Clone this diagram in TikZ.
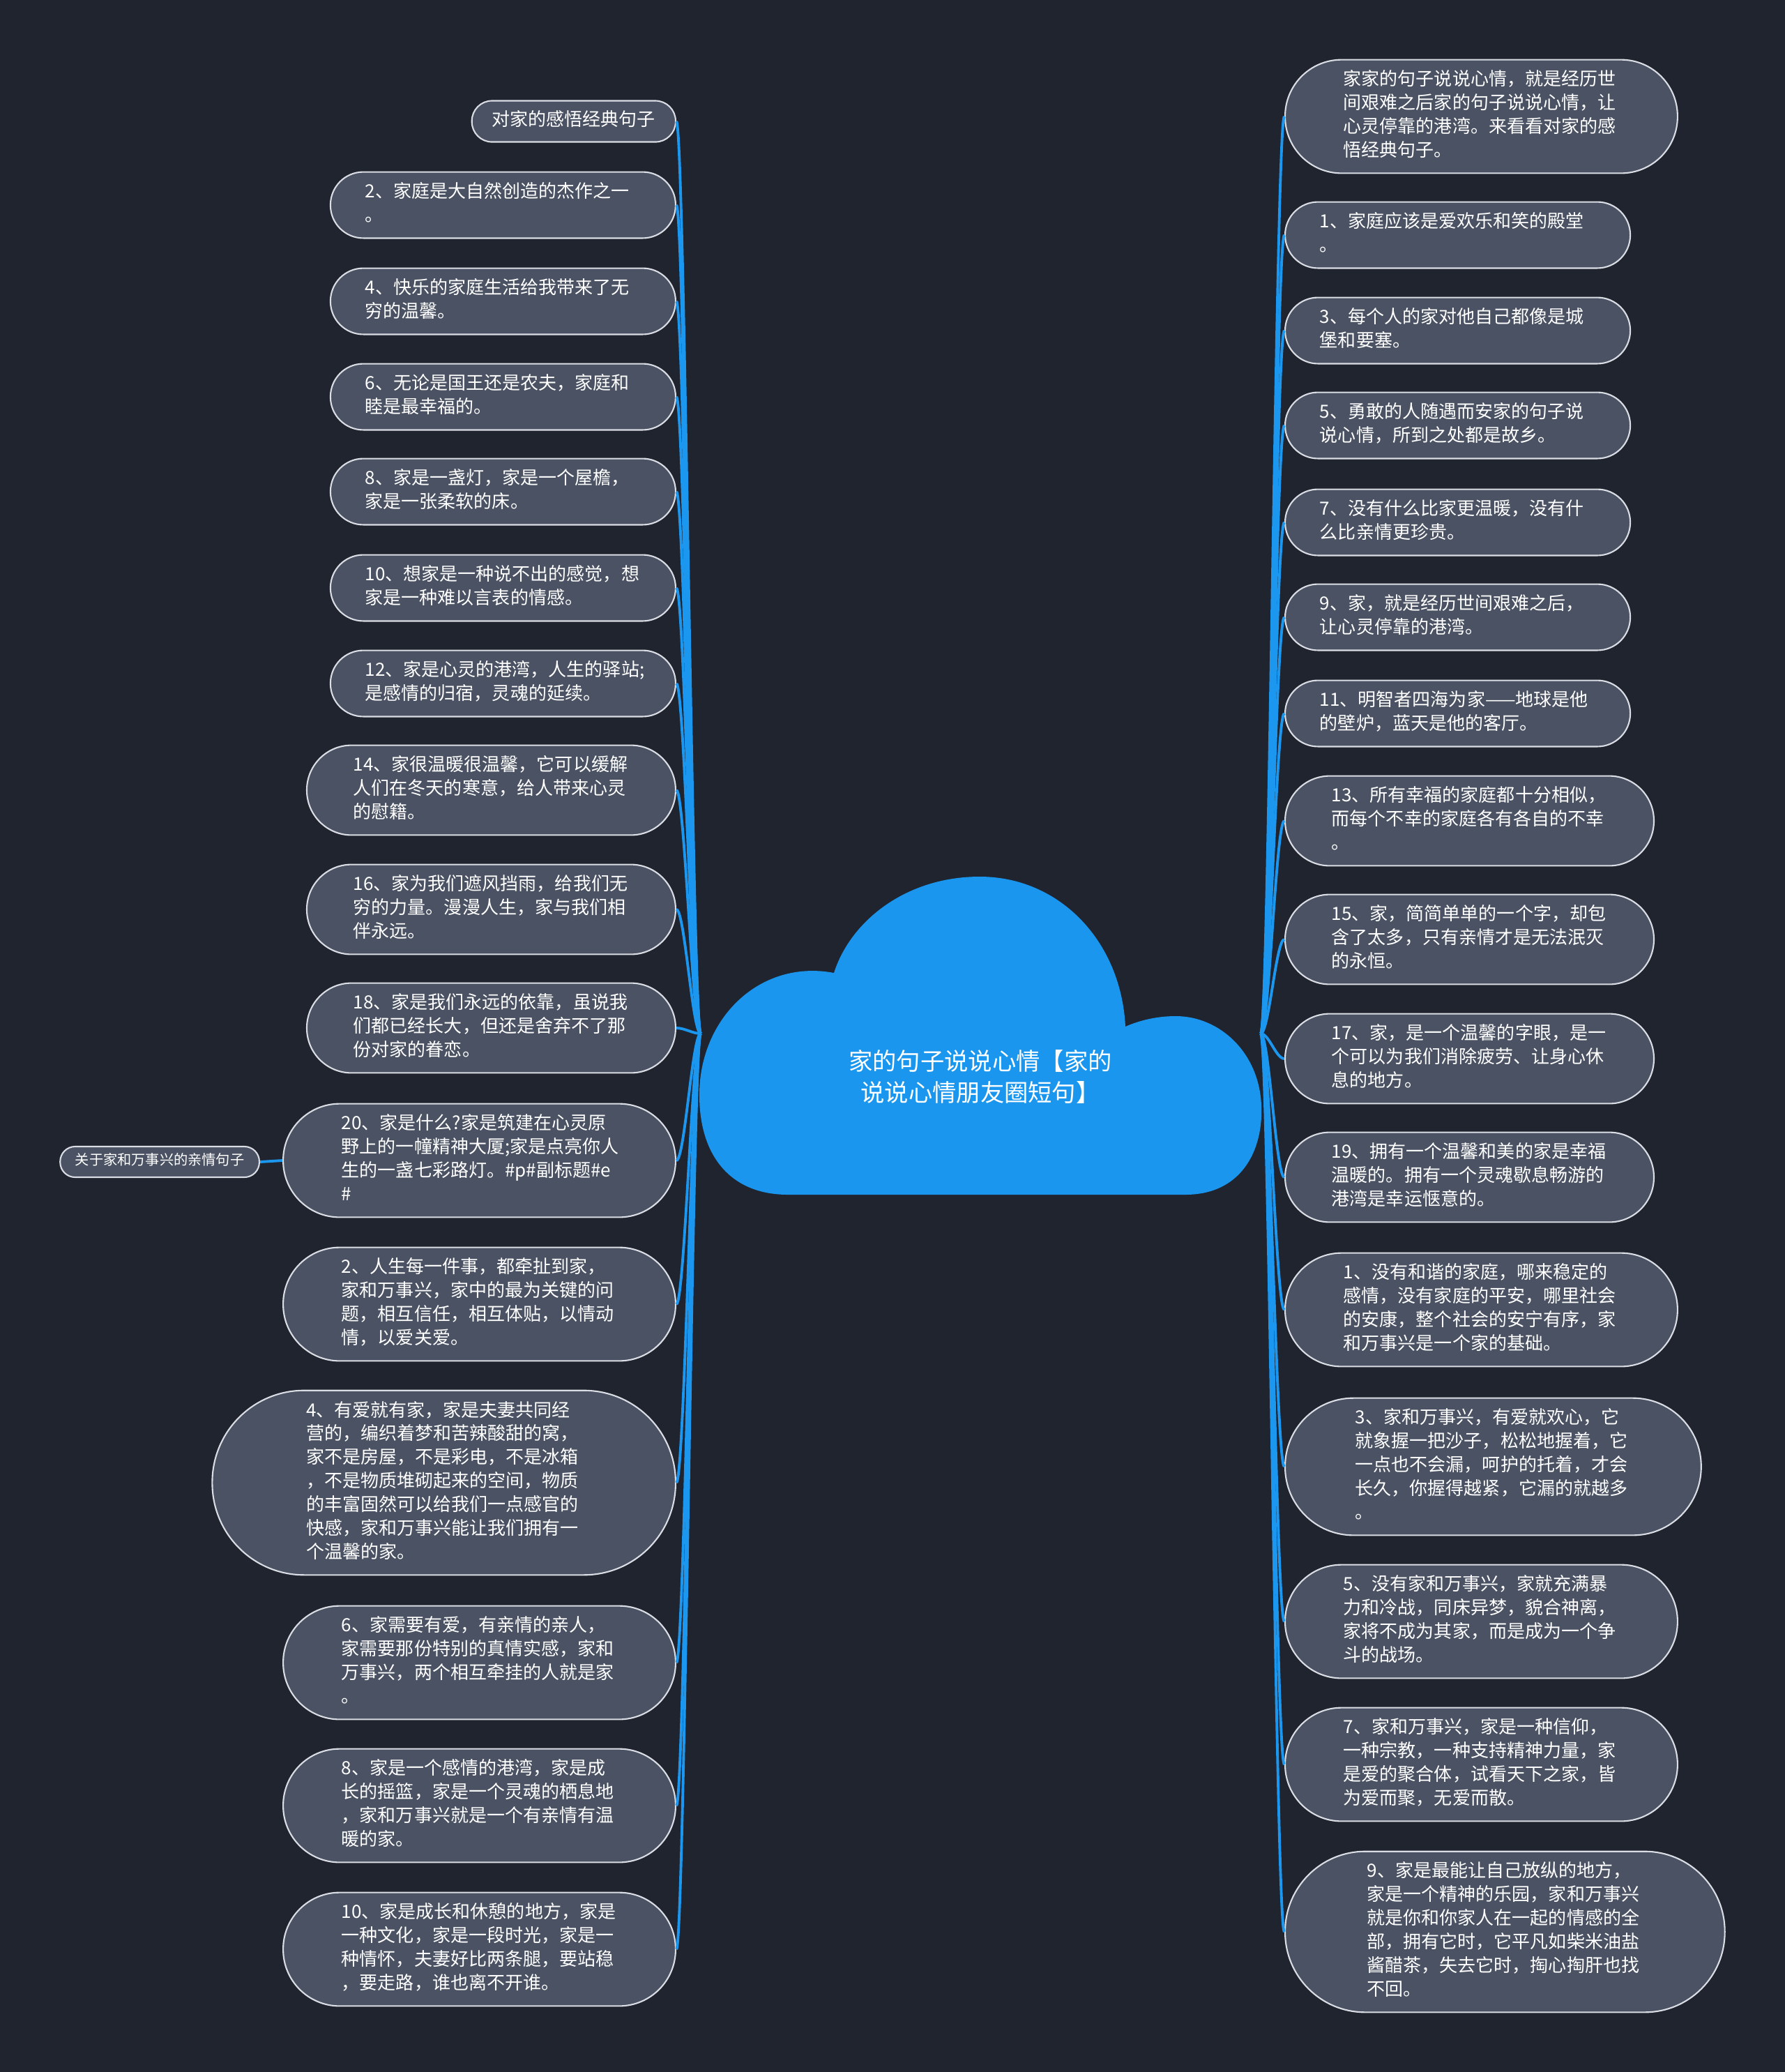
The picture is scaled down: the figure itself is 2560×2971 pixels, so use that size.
\documentclass[tikz,border=0pt]{standalone}
\usepackage{fontspec}
\newfontfamily\cjk{Noto Sans CJK SC}
\definecolor{bgcol}{HTML}{20242F}
\definecolor{topiccol}{HTML}{4A5263}
\definecolor{rimcol}{HTML}{DADDE3}
\definecolor{linkcol}{HTML}{1C97F0}
\definecolor{cloudcol}{HTML}{1A96EE}
\begin{document}
\begin{tikzpicture}[
    x=0.01cm, y=-0.01cm,
    pill/.style = {rectangle, draw=rimcol, line width=0.6pt, fill=topiccol, text=white, rounded corners=#1, inner xsep=#1, execute at begin node=\strut},
    topic/.style = {pill={(16.9*#1+13.4)*0.01cm}, inner xsep={(16.95*#1+16)*0.01cm}, font=\cjk\fontsize{7.4pt}{9.65pt}\selectfont, text width=3.95cm, align=left, inner ysep=0.135cm, execute at end node=\strut},
    ltopic/.style = {topic=#1, anchor=east},
    rtopic/.style = {topic=#1, anchor=west},
    roottext/.style = {text=white, font=\cjk\fontsize{9.76pt}{12.9pt}\selectfont, align=center},
    link/.style = {draw=linkcol, line width=1.1pt}
]
    \fill[bgcol] (0,0) rectangle (2560,2971);

    % cloud behind the title
    \fill[cloudcol] (1130,1713) -- (1700,1713)
        .. controls (1780,1713) and (1812,1650) .. (1809,1585)
        .. controls (1806,1510) and (1750,1457) .. (1686,1457)
        .. controls (1655,1457) and (1630,1465) .. (1614,1472)
        .. controls (1608,1350) and (1520,1257) .. (1405,1257)
        .. controls (1300,1257) and (1220,1320) .. (1196,1395)
        .. controls (1090,1375) and (1003,1460) .. (1003,1570)
        .. controls (1003,1660) and (1050,1713) .. (1130,1713) -- cycle;
    \node[roottext] (root) at (1406,1544) {家的句子说说心情【家的\\说说心情朋友圈短句】};
    \coordinate (root-l) at (1005,1482);
    \coordinate (root-r) at (1808,1482);

    % left side
    \node[pill=0.29cm, anchor=east, font=\cjk\fontsize{7.4pt}{9pt}\selectfont, inner ysep=0.137cm] (l0) at (970,174) {对家的感悟经典句子};
    \node[ltopic=2] (l2) at (970,294) {2、家庭是大自然创造的杰作之一\\。};
    \node[ltopic=2] (l4) at (970,432) {4、快乐的家庭生活给我带来了无\\穷的温馨。};
    \node[ltopic=2] (l6) at (970,569) {6、无论是国王还是农夫，家庭和\\睦是最幸福的。};
    \node[ltopic=2] (l8) at (970,705) {8、家是一盏灯，家是一个屋檐，\\家是一张柔软的床。};
    \node[ltopic=2] (l10) at (970,843) {10、想家是一种说不出的感觉，想\\家是一种难以言表的情感。};
    \node[ltopic=2] (l12) at (970,980) {12、家是心灵的港湾，人生的驿站;\\是感情的归宿，灵魂的延续。};
    \node[ltopic=3] (l14) at (970,1133) {14、家很温暖很温馨，它可以缓解\\人们在冬天的寒意，给人带来心灵\\的慰籍。};
    \node[ltopic=3] (l16) at (970,1304) {16、家为我们遮风挡雨，给我们无\\穷的力量。漫漫人生，家与我们相\\伴永远。};
    \node[ltopic=3] (l18) at (970,1474) {18、家是我们永远的依靠，虽说我\\们都已经长大，但还是舍弃不了那\\份对家的眷恋。};
    \node[ltopic=4] (l20) at (970,1664) {20、家是什么?家是筑建在心灵原\\野上的一幢精神大厦;家是点亮你人\\生的一盏七彩路灯。\#p\#副标题\#e\\\#};
    \node[pill=0.215cm, anchor=east, font=\cjk\fontsize{5.75pt}{7pt}\selectfont, inner ysep=0.097cm] (lh) at (373,1666) {关于家和万事兴的亲情句子};
    \node[ltopic=4] (m2) at (970,1870) {2、人生每一件事，都牵扯到家，\\家和万事兴，家中的最为关键的问\\题，相互信任，相互体贴，以情动\\情，以爱关爱。};
    \node[ltopic=7] (m4) at (970,2126) {4、有爱就有家，家是夫妻共同经\\营的，编织着梦和苦辣酸甜的窝，\\家不是房屋，不是彩电，不是冰箱\\，不是物质堆砌起来的空间，物质\\的丰富固然可以给我们一点感官的\\快感，家和万事兴能让我们拥有一\\个温馨的家。};
    \node[ltopic=4] (m6) at (970,2384) {6、家需要有爱，有亲情的亲人，\\家需要那份特别的真情实感，家和\\万事兴，两个相互牵挂的人就是家\\。};
    \node[ltopic=4] (m8) at (970,2589) {8、家是一个感情的港湾，家是成\\长的摇篮，家是一个灵魂的栖息地\\，家和万事兴就是一个有亲情有温\\暖的家。};
    \node[ltopic=4] (m10) at (970,2795) {10、家是成长和休憩的地方，家是\\一种文化，家是一段时光，家是一\\种情怀，夫妻好比两条腿，要站稳\\，要走路，谁也离不开谁。};

    % right side
    \node[rtopic=4] (r0) at (1842,167) {家家的句子说说心情，就是经历世\\间艰难之后家的句子说说心情，让\\心灵停靠的港湾。来看看对家的感\\悟经典句子。};
    \node[rtopic=2] (r1) at (1842,337) {1、家庭应该是爱欢乐和笑的殿堂\\。};
    \node[rtopic=2] (r3) at (1842,474) {3、每个人的家对他自己都像是城\\堡和要塞。};
    \node[rtopic=2] (r5) at (1842,610) {5、勇敢的人随遇而安家的句子说\\说心情，所到之处都是故乡。};
    \node[rtopic=2] (r7) at (1842,749) {7、没有什么比家更温暖，没有什\\么比亲情更珍贵。};
    \node[rtopic=2] (r9) at (1842,885) {9、家，就是经历世间艰难之后，\\让心灵停靠的港湾。};
    \node[rtopic=2] (r11) at (1842,1023) {\mbox{11、明智者四海为家——地球是他}\\的壁炉，蓝天是他的客厅。};
    \node[rtopic=3] (r13) at (1842,1177) {13、所有幸福的家庭都十分相似，\\而每个不幸的家庭各有各自的不幸\\。};
    \node[rtopic=3] (r15) at (1842,1347) {15、家，简简单单的一个字，却包\\含了太多，只有亲情才是无法泯灭\\的永恒。};
    \node[rtopic=3] (r17) at (1842,1518) {17、家，是一个温馨的字眼，是一\\个可以为我们消除疲劳、让身心休\\息的地方。};
    \node[rtopic=3] (r19) at (1842,1688) {19、拥有一个温馨和美的家是幸福\\温暖的。拥有一个灵魂歇息畅游的\\港湾是幸运惬意的。};
    \node[rtopic=4] (s1) at (1842,1878) {1、没有和谐的家庭，哪来稳定的\\感情，没有家庭的平安，哪里社会\\的安康，整个社会的安宁有序，家\\和万事兴是一个家的基础。};
    \node[rtopic=5] (s3) at (1842,2103) {3、家和万事兴，有爱就欢心，它\\就象握一把沙子，松松地握着，它\\一点也不会漏，呵护的托着，才会\\长久，你握得越紧，它漏的就越多\\。};
    \node[rtopic=4] (s5) at (1842,2325) {5、没有家和万事兴，家就充满暴\\力和冷战，同床异梦，貌合神离，\\家将不成为其家，而是成为一个争\\斗的战场。};
    \node[rtopic=4] (s7) at (1842,2530) {7、家和万事兴，家是一种信仰，\\一种宗教，一种支持精神力量，家\\是爱的聚合体，试看天下之家，皆\\为爱而聚，无爱而散。};
    \node[rtopic=6] (s9) at (1842,2770) {9、家是最能让自己放纵的地方，\\家是一个精神的乐园，家和万事兴\\就是你和你家人在一起的情感的全\\部，拥有它时，它平凡如柴米油盐\\酱醋茶，失去它时，掏心掏肝也找\\不回。};

    % links from the cloud
    \path[link] (root-l) .. controls +(-12,0) and +(12,0) .. (l0.east);
    \path[link] (root-l) .. controls +(-12,0) and +(12,0) .. (l2.east);
    \path[link] (root-l) .. controls +(-12,0) and +(12,0) .. (l4.east);
    \path[link] (root-l) .. controls +(-12,0) and +(12,0) .. (l6.east);
    \path[link] (root-l) .. controls +(-12,0) and +(12,0) .. (l8.east);
    \path[link] (root-l) .. controls +(-12,0) and +(12,0) .. (l10.east);
    \path[link] (root-l) .. controls +(-12,0) and +(12,0) .. (l12.east);
    \path[link] (root-l) .. controls +(-12,0) and +(12,0) .. (l14.east);
    \path[link] (root-l) .. controls +(-12,0) and +(12,0) .. (l16.east);
    \path[link] (root-l) .. controls +(-12,0) and +(12,0) .. (l18.east);
    \path[link] (root-l) .. controls +(-12,0) and +(12,0) .. (l20.east);
    \path[link] (root-l) .. controls +(-12,0) and +(12,0) .. (m2.east);
    \path[link] (root-l) .. controls +(-12,0) and +(12,0) .. (m4.east);
    \path[link] (root-l) .. controls +(-12,0) and +(12,0) .. (m6.east);
    \path[link] (root-l) .. controls +(-12,0) and +(12,0) .. (m8.east);
    \path[link] (root-l) .. controls +(-12,0) and +(12,0) .. (m10.east);
    \path[link] (lh.east) -- (l20.west);

    \path[link] (root-r) .. controls +(12,0) and +(-12,0) .. (r0.west);
    \path[link] (root-r) .. controls +(12,0) and +(-12,0) .. (r1.west);
    \path[link] (root-r) .. controls +(12,0) and +(-12,0) .. (r3.west);
    \path[link] (root-r) .. controls +(12,0) and +(-12,0) .. (r5.west);
    \path[link] (root-r) .. controls +(12,0) and +(-12,0) .. (r7.west);
    \path[link] (root-r) .. controls +(12,0) and +(-12,0) .. (r9.west);
    \path[link] (root-r) .. controls +(12,0) and +(-12,0) .. (r11.west);
    \path[link] (root-r) .. controls +(12,0) and +(-12,0) .. (r13.west);
    \path[link] (root-r) .. controls +(12,0) and +(-12,0) .. (r15.west);
    \path[link] (root-r) .. controls +(12,0) and +(-12,0) .. (r17.west);
    \path[link] (root-r) .. controls +(12,0) and +(-12,0) .. (r19.west);
    \path[link] (root-r) .. controls +(12,0) and +(-12,0) .. (s1.west);
    \path[link] (root-r) .. controls +(12,0) and +(-12,0) .. (s3.west);
    \path[link] (root-r) .. controls +(12,0) and +(-12,0) .. (s5.west);
    \path[link] (root-r) .. controls +(12,0) and +(-12,0) .. (s7.west);
    \path[link] (root-r) .. controls +(12,0) and +(-12,0) .. (s9.west);
\end{tikzpicture}
\end{document}
